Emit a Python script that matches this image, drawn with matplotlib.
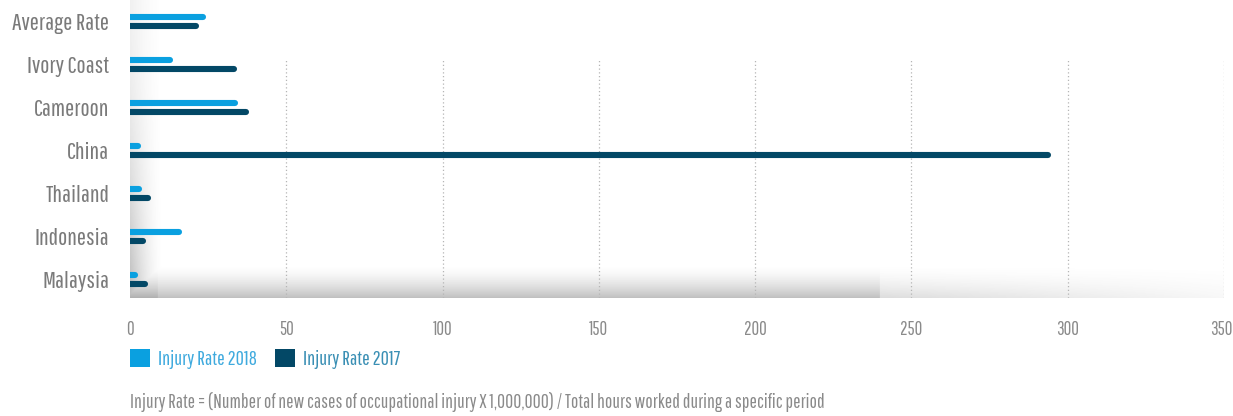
import numpy as np
import matplotlib
matplotlib.use("Agg")
import matplotlib.pyplot as plt
import matplotlib.transforms as mtransforms
from matplotlib.patches import Patch

# Data
categories = ["Average Rate", "Ivory Coast", "Cameroon", "China", "Thailand", "Indonesia", "Malaysia"]
rate_2018 = [23.3, 12.8, 33.5, 2.4, 3.0, 15.7, 1.6]
rate_2017 = [21.1, 33.2, 37.1, 293.6, 5.6, 4.3, 4.8]
series_labels = ["Injury Rate 2018", "Injury Rate 2017"]
x_ticks = [0, 50, 100, 150, 200, 250, 300, 350]
footnote = "Injury Rate = (Number of new cases of occupational injury X 1,000,000) / Total hours worked during a specific period"

c2018 = "#0aa0e0"
c2017 = "#034866"
label_grey = "#7a7a7a"

plt.rcParams["font.family"] = ["Pathway Gothic One", "Saira Extra Condensed", "Barlow Condensed", "DejaVu Sans"]

W, H = 1233, 416
fig = plt.figure(figsize=(W / 100, H / 100), dpi=100)
ax_left, ax_right, ax_top, ax_bot = 130, 1224, 0, 298
ax = fig.add_axes([ax_left / W, 1 - ax_bot / H, (ax_right - ax_left) / W, (ax_bot - ax_top) / H])

y = np.arange(len(categories))
off = 0.105
lw = 4.4
for i in y:
    ax.plot([0, rate_2018[i]], [i - off, i - off], color=c2018, lw=lw,
            solid_capstyle="round", zorder=3)
    ax.plot([0, rate_2017[i]], [i + off, i + off], color=c2017, lw=lw,
            solid_capstyle="round", zorder=3)

ylim = (6.42, -0.51)
# dotted grid lines starting below the first row
grid_top = 58
gfrac = 1 - grid_top / (ax_bot - ax_top)
for xv in x_ticks[1:]:
    ax.axvline(xv, ymin=0, ymax=gfrac, color="#b5b5b5", lw=0.9, ls=(0, (1, 2)), zorder=1)

# soft shading along the bottom and left edge of the plot area
hh, ww = 300, 1100
yy = np.linspace(0, 1, hh)[:, None]   # 0 top -> 1 bottom
xx = np.linspace(0, 1, ww)[None, :]
tb = np.clip((yy - 0.89) / 0.11, 0, 1) ** 1.6
hfade = np.where(xx < 0.686, 1.0, 0.45 * np.clip(1 - (xx - 0.686) / 0.33, 0, 1) + 0.1)
hfade = np.where(xx < 0.025, 1.25, hfade)
alpha_b = 0.42 * tb * hfade
xpix = xx * 1094
tl = np.clip(1 - xpix / 32, 0, 1) ** 1.5
alpha_l = tl * (0.10 + 0.35 * yy ** 2)
alpha = np.clip(np.maximum(alpha_b, alpha_l), 0, 1)
img = np.zeros((hh, ww, 4))
img[..., :3] = 0.42
img[..., 3] = alpha
ax.imshow(img, extent=(0, 1, 0, 1), transform=ax.transAxes, aspect="auto",
          origin="upper", zorder=0, interpolation="bilinear")

ax.set_xlim(0, 350)
ax.set_ylim(*ylim)
for s in ax.spines.values():
    s.set_visible(False)
ax.set_yticks(y)
ax.set_yticklabels(categories, fontsize=17.5, color=label_grey)
ax.set_xticks(x_ticks)
ax.set_xticklabels([str(v) for v in x_ticks], fontsize=13.5, color="#8a8a8a")
ax.tick_params(axis="both", length=0)
ax.tick_params(axis="y", pad=15)
ax.tick_params(axis="x", pad=16)
# nudge the last tick label so it stays inside the figure
last = ax.get_xticklabels()[-1]
last.set_transform(last.get_transform() + mtransforms.ScaledTranslation(-3 / 100, 0, fig.dpi_scale_trans))

handles = [Patch(facecolor=c2018, edgecolor="none"), Patch(facecolor=c2017, edgecolor="none")]
leg = fig.legend(handles, series_labels, loc="center left",
                 bbox_to_anchor=(130 / W, 1 - 359 / H), ncol=2, frameon=False,
                 borderpad=0, borderaxespad=0,
                 handlelength=0.98, handleheight=0.98, handletextpad=0.4,
                 columnspacing=0.9, fontsize=14.5)
for t, col in zip(leg.get_texts(), ["#3faade", "#3a8fb4"]):
    t.set_color(col)

fig.text(130 / W, 1 - 402 / H, footnote, fontsize=14, color="#8a8a8a",
         ha="left", va="center")

fig.savefig("out.png", dpi=100)
